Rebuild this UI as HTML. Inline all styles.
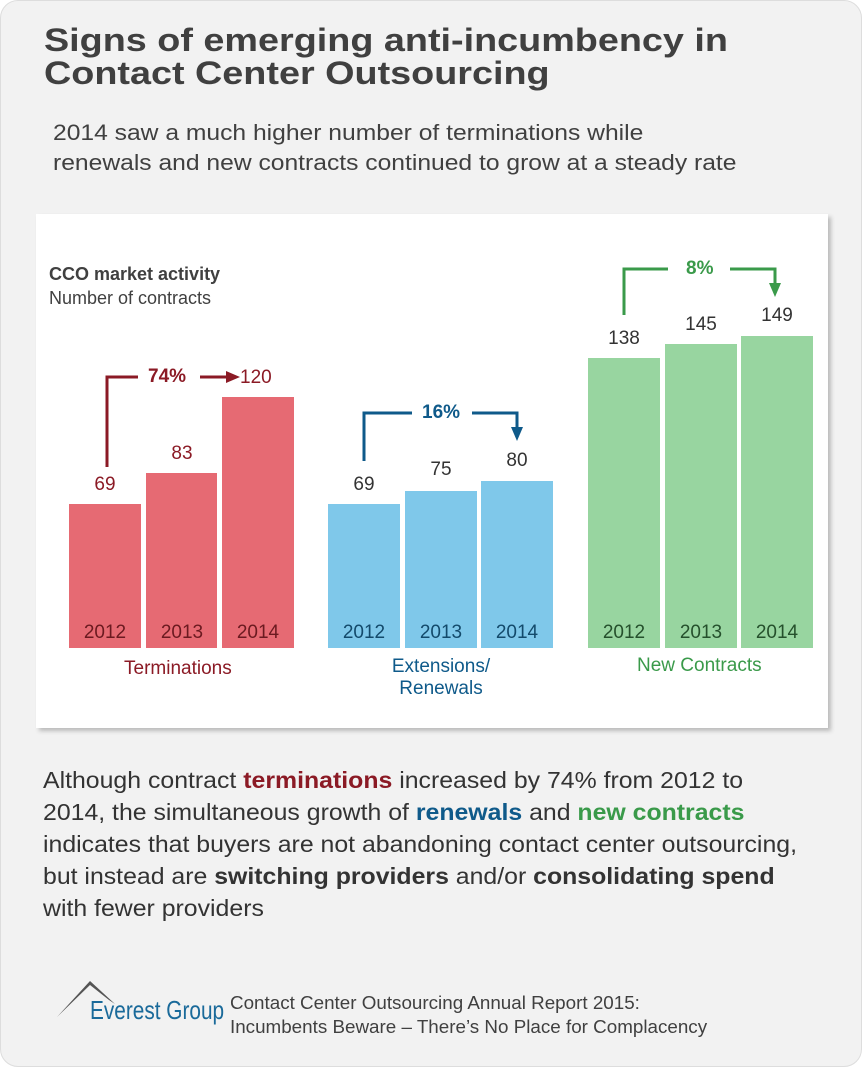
<!DOCTYPE html>
<html><head><meta charset="utf-8"><style>
*{margin:0;padding:0;box-sizing:border-box}
body{width:862px;height:1067px;background:#fff;font-family:"Liberation Sans",Arial,sans-serif;position:relative;overflow:hidden}
.card{position:absolute;left:0;top:0;width:862px;height:1067px;background:#f2f2f2;border-radius:18px;border:1px solid #ddd}
.a{position:absolute;white-space:nowrap;transform-origin:left top}
.panel{position:absolute;left:36px;top:214px;width:792px;height:514px;background:#fff;box-shadow:3px 3px 4px #bbb}
.bar{position:absolute}
.yr{position:absolute;width:72px;text-align:center;top:622px;font-size:19px}
.v{position:absolute;width:72px;text-align:center;font-size:19px}
</style></head><body>
<div class="card"></div>
<div class="a" style="left:44px;top:24px;font-size:32px;font-weight:bold;color:#404040;line-height:33px;transform:scaleX(1.18)">Signs of emerging anti-incumbency in<br>Contact Center Outsourcing</div>
<div class="a" style="left:53px;top:118px;font-size:22px;color:#404040;line-height:30px;transform:scaleX(1.12)">2014 saw a much higher number of terminations while<br>renewals and new contracts continued to grow at a steady rate</div>
<div class="panel"></div>
<div class="a" style="left:49px;top:264px;font-size:18px;font-weight:bold;color:#404040">CCO market activity</div>
<div class="a" style="left:49px;top:288px;font-size:18px;color:#404040">Number of contracts</div>

<div class="bar" style="left:69px;top:504px;width:72px;height:144px;background:#e66a73"></div>
<div class="bar" style="left:146px;top:473px;width:71px;height:175px;background:#e66a73"></div>
<div class="bar" style="left:222px;top:397px;width:72px;height:251px;background:#e66a73"></div>
<div class="bar" style="left:328px;top:504px;width:72px;height:144px;background:#7fc8ea"></div>
<div class="bar" style="left:405px;top:491px;width:72px;height:157px;background:#7fc8ea"></div>
<div class="bar" style="left:481px;top:481px;width:72px;height:167px;background:#7fc8ea"></div>
<div class="bar" style="left:588px;top:358px;width:72px;height:290px;background:#98d5a0"></div>
<div class="bar" style="left:665px;top:344px;width:72px;height:304px;background:#98d5a0"></div>
<div class="bar" style="left:741px;top:336px;width:72px;height:312px;background:#98d5a0"></div>

<div class="yr" style="left:69px;color:#6b1a20">2012</div><div class="yr" style="left:146px;color:#6b1a20">2013</div><div class="yr" style="left:222px;color:#6b1a20">2014</div>
<div class="yr" style="left:328px;color:#134a6b">2012</div><div class="yr" style="left:405px;color:#134a6b">2013</div><div class="yr" style="left:481px;color:#134a6b">2014</div>
<div class="yr" style="left:588px;color:#25502c">2012</div><div class="yr" style="left:665px;color:#25502c">2013</div><div class="yr" style="left:741px;color:#25502c">2014</div>

<div class="v" style="left:69px;top:474px;color:#8b1a25">69</div>
<div class="v" style="left:146px;top:443px;color:#8b1a25">83</div>
<div class="a" style="left:240px;top:367px;font-size:19px;color:#8b1a25">120</div>
<div class="v" style="left:328px;top:474px;color:#333">69</div>
<div class="v" style="left:405px;top:459px;color:#333">75</div>
<div class="v" style="left:481px;top:450px;color:#333">80</div>
<div class="v" style="left:588px;top:328px;color:#333">138</div>
<div class="v" style="left:665px;top:314px;color:#333">145</div>
<div class="v" style="left:741px;top:305px;color:#333">149</div>

<svg class="a" style="left:0;top:0" width="862" height="1067">
<g fill="none" stroke-width="3">
<path d="M107 467V377H138M200 377H226" stroke="#8b1a25"/>
<path d="M364 461V413H412M472 413H517V427" stroke="#0f5a8a"/>
<path d="M624 315V269H668M730 269H775V283" stroke="#3a9a4a"/>
</g>
<path d="M226 371L240 377L226 383Z" fill="#8b1a25"/>
<path d="M511 427L523 427L517 441Z" fill="#0f5a8a"/>
<path d="M769 283L781 283L775 297Z" fill="#3a9a4a"/>
<path d="M57 1017L90 981L115 1004L109 1000L90 985Z" fill="#555"/>
</svg>
<div class="a" style="left:148px;top:366px;font-size:19px;font-weight:bold;color:#8b1a25">74%</div>
<div class="a" style="left:422px;top:402px;font-size:19px;font-weight:bold;color:#0f5a8a">16%</div>
<div class="a" style="left:686px;top:258px;font-size:19px;font-weight:bold;color:#3a9a4a">8%</div>

<div class="a" style="left:124px;top:658px;font-size:19px;color:#8b1a25">Terminations</div>
<div class="a" style="left:385px;top:656px;width:112px;font-size:19px;color:#0f5a8a;text-align:center;line-height:22px">Extensions/<br>Renewals</div>
<div class="a" style="left:637px;top:655px;font-size:19px;color:#3a9a4a">New Contracts</div>

<div class="a" style="left:43px;top:764px;font-size:23px;color:#333;line-height:32px;transform:scaleX(1.08)">Although contract <b style="color:#8b1a25">terminations</b> increased by 74% from 2012 to<br>2014, the simultaneous growth of <b style="color:#0f5a8a">renewals</b> and <b style="color:#3a9a4a">new contracts</b><br>indicates that buyers are not abandoning contact center outsourcing,<br>but instead are <b>switching providers</b> and/or <b>consolidating spend</b><br>with fewer providers</div>

<div class="a" style="left:90px;top:995px;font-size:26px;color:#1a6a9a;transform:scaleX(0.8)">Everest Group</div>
<div class="a" style="left:230px;top:991px;font-size:18px;color:#404040;line-height:24px;transform:scaleX(1.045)">Contact Center Outsourcing Annual Report 2015:<br>Incumbents Beware – There’s No Place for Complacency</div>
</body></html>
